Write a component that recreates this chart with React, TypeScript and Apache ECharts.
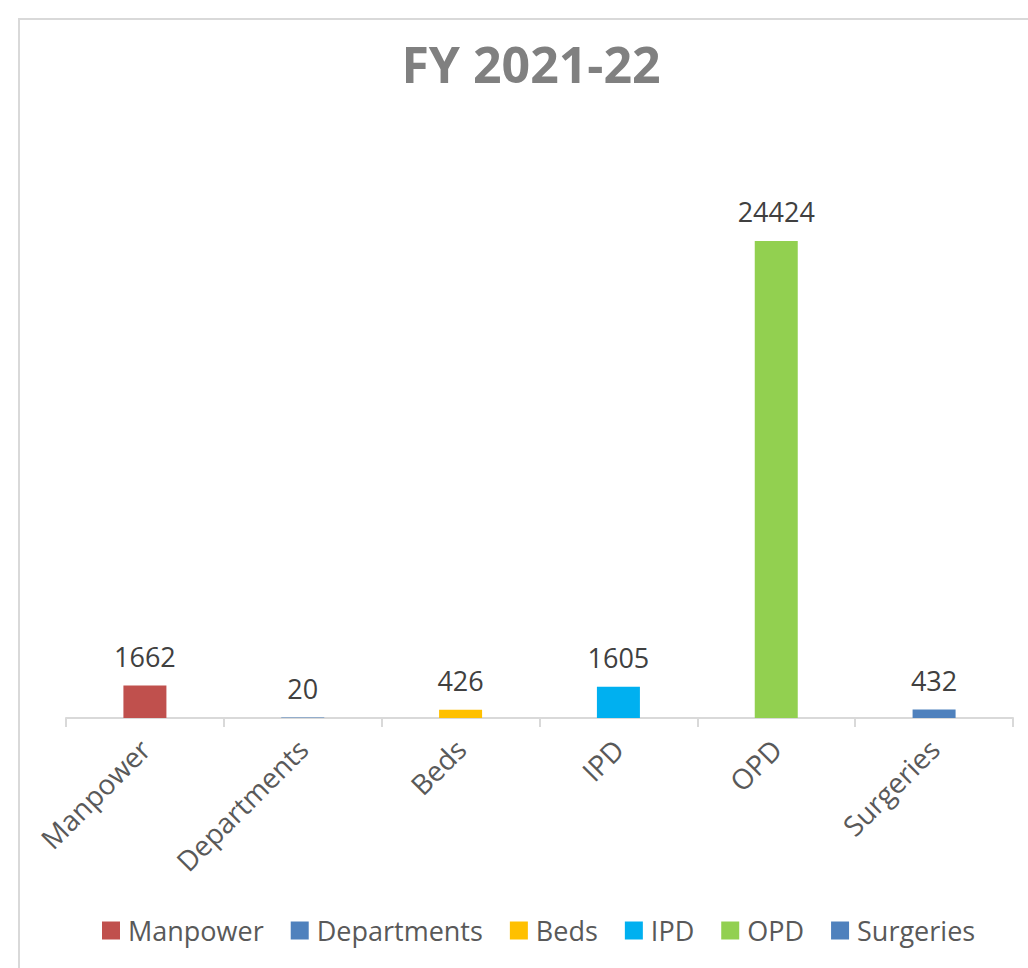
import React, { useEffect, useRef } from "react";
import * as echarts from "echarts";

const categories = ["Manpower", "Departments", "Beds", "IPD", "OPD", "Surgeries"];
const values = [1662, 20, 426, 1605, 24424, 432];
const colors = ["#C0504D", "#4F81BD", "#FFC000", "#00B0F0", "#92D050", "#4F81BD"];
const titleText = "FY 2021-22";

export default function App() {
  const ref = useRef<HTMLDivElement>(null);
  useEffect(() => {
    if (!ref.current) return;
    const chart = echarts.init(ref.current, null, { renderer: "svg" });
    const font = "'Open Sans', sans-serif";
    const series = categories.map((name, i) => ({
      name,
      type: "bar",
      stack: "all",
      barWidth: 43,
      itemStyle: { color: colors[i] },
      data: categories.map((_, j) => (j === i ? values[i] : "-")),
      label: {
        show: true,
        position: "top",
        distance: 16,
        color: "#404040",
        fontSize: 27,
        fontFamily: font,
      },
    }));
    chart.setOption({
      animation: false,
      backgroundColor: "#ffffff",
      title: {
        text: titleText,
        left: 526,
        top: 34,
        textAlign: "center",
        textStyle: { color: "#808080", fontSize: 50, fontWeight: "bold", fontFamily: font },
      },
      graphic: [
        {
          type: "rect",
          shape: { x: 19, y: 19, width: 1100, height: 1100 },
          style: { fill: "none", stroke: "#d9d9d9", lineWidth: 2 },
          silent: true,
        },
      ],
      legend: {
        bottom: 19,
        left: 97,
        icon: "rect",
        itemWidth: 18,
        itemHeight: 18,
        itemGap: 27,
        textStyle: {
          color: "#595959",
          fontSize: 27,
          fontFamily: font,
          padding: [0, 0, 0, 3],
        },
        data: categories,
      },
      grid: { left: 66, right: 15, top: 132, bottom: 250 },
      xAxis: {
        type: "category",
        data: categories,
        axisLine: { lineStyle: { color: "#d9d9d9", width: 2 } },
        axisTick: { show: true, length: 9, lineStyle: { color: "#d9d9d9", width: 2 } },
        axisLabel: {
          rotate: 45,
          margin: 26,
          color: "#595959",
          fontSize: 28,
          fontFamily: font,
          interval: 0,
        },
      },
      yAxis: {
        type: "value",
        min: 0,
        max: 30000,
        show: false,
        splitLine: { show: false },
      },
      series,
    });
    return () => chart.dispose();
  }, []);
  return (
    <div
      ref={ref}
      style={{ position: "fixed", left: 0, top: 0, width: 1028, height: 968 }}
    />
  );
}
